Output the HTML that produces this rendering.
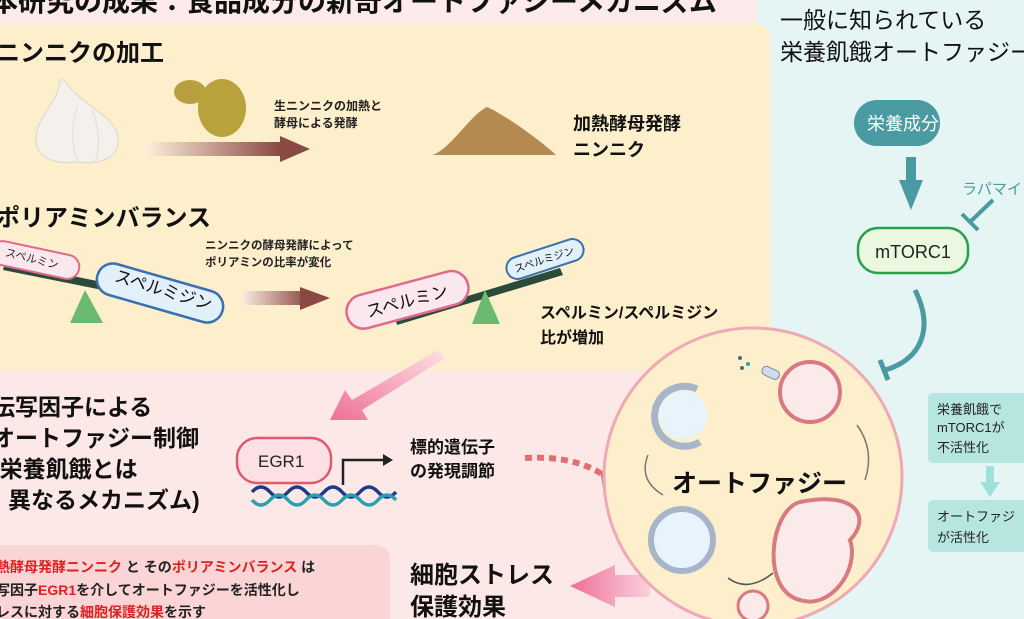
<!DOCTYPE html>
<html><head><meta charset="utf-8"><style>
body{margin:0;width:1024px;height:619px;overflow:hidden;background:#fcecea;font-family:"Liberation Sans","Noto Sans CJK JP",sans-serif}
svg{display:block}
text{font-family:"Liberation Sans","Noto Sans CJK JP",sans-serif}
</style></head><body>
<svg width="1024" height="619" viewBox="0 0 1024 619">
<defs>
<linearGradient id="g1" x1="0" x2="1"><stop offset="0" stop-color="#fdf0dc"/><stop offset="1" stop-color="#8a4a44"/></linearGradient>
<linearGradient id="g2" x1="0" x2="1"><stop offset="0" stop-color="#fbe8e0"/><stop offset="1" stop-color="#8a4a44"/></linearGradient>
<linearGradient id="g3" x1="1" y1="0" x2="0" y2="1"><stop offset="0" stop-color="#fde0e6"/><stop offset="1" stop-color="#ee6f98"/></linearGradient>
<linearGradient id="g4" x1="1" x2="0"><stop offset="0" stop-color="#fbd0dc"/><stop offset="1" stop-color="#ee6f98"/></linearGradient>
</defs>
<rect width="1024" height="619" fill="#fcebea"/>
<rect x="757" y="0" width="267" height="619" fill="#e4f5f3"/>
<rect x="-20" y="24" width="790" height="346" rx="14" fill="#fdefcc"/>
<rect x="-20" y="370" width="777" height="249" fill="#fde8e8"/>
<text x="-10" y="11" font-size="28" font-weight="bold" fill="#111">本研究の成果：食品成分の新奇オートファジーメカニズム</text>
<text x="-4" y="61" font-size="24" font-weight="bold" fill="#111">ニンニクの加工</text>
<!-- garlic -->
<path d="M60 80 C 58 105, 36 115, 36 140 C 36 158, 55 165, 78 162 C 100 165, 120 158, 118 138 C 116 115, 80 105, 64 80Z" fill="#f4f1ec" stroke="#dcd5ca"/>
<path d="M78 105 C 70 125, 72 150, 78 162 M 92 110 C 100 130, 100 150, 95 162" stroke="#e2dcd2" fill="none"/>
<ellipse cx="190" cy="92" rx="16" ry="12" fill="#b8a040"/>
<ellipse cx="222" cy="108" rx="24" ry="29" fill="#b9a23c"/>
<rect x="145" y="142" width="135" height="14" fill="url(#g1)"/>
<polygon points="280,136 310,149 280,162" fill="#8a4a44"/>
<text x="274" y="110" font-size="12" font-weight="bold" fill="#222">生ニンニクの加熱と</text>
<text x="274" y="127" font-size="12" font-weight="bold" fill="#222">酵母による発酵</text>
<path d="M432 155 C 450 150, 470 115, 487 107 C 505 115, 540 140, 556 155 Z" fill="#b48a50"/>
<text x="573" y="130" font-size="18" font-weight="bold" fill="#111">加熱酵母発酵</text>
<text x="573" y="156" font-size="18" font-weight="bold" fill="#111">ニンニク</text>
<text x="-4" y="226" font-size="24" font-weight="bold" fill="#111">ポリアミンバランス</text>
<!-- left seesaw -->
<polygon points="5,262 165,295 162,302 3,270" fill="#2a4a3a"/>
<rect x="-10" y="248" width="90" height="24" rx="12" fill="#fbe8ee" stroke="#e06a8a" stroke-width="2" transform="rotate(12 35 260)"/>
<text x="5" y="262" font-size="11" fill="#222" transform="rotate(14 30 258)">スペルミン</text>
<rect x="95" y="277" width="130" height="32" rx="16" fill="#e2f0fa" stroke="#3a6fb0" stroke-width="2.5" transform="rotate(16 160 293)"/>
<text x="112" y="295" font-size="17" fill="#111" transform="rotate(17 160 293)">スペルミジン</text>
<polygon points="85,290 70,323 103,323" fill="#6aba72"/>
<rect x="243" y="291" width="65" height="14" fill="url(#g2)"/>
<polygon points="300,287 330,298 300,310" fill="#8a4a44"/>
<text x="205" y="249" font-size="11.5" font-weight="bold" fill="#222">ニンニクの酵母発酵によって</text>
<text x="205" y="266" font-size="11.5" font-weight="bold" fill="#222">ポリアミンの比率が変化</text>
<!-- right seesaw -->
<polygon points="395,318 560,268 563,275 397,325" fill="#2a4a3a"/>
<rect x="345" y="283" width="125" height="34" rx="17" fill="#fbe8ee" stroke="#e06a8a" stroke-width="2.5" transform="rotate(-15 407 300)"/>
<text x="365" y="307" font-size="17" fill="#111" transform="rotate(-15 407 300)">スペルミン</text>
<rect x="505" y="248" width="80" height="22" rx="11" fill="#e2f0fa" stroke="#3a6fb0" stroke-width="2" transform="rotate(-18 545 259)"/>
<text x="513" y="263" font-size="10.5" fill="#111" transform="rotate(-18 545 259)">スペルミジン</text>
<polygon points="485,290 472,324 500,324" fill="#6aba72"/>
<text x="540" y="318" font-size="16" font-weight="bold" fill="#111">スペルミン/スペルミジン</text>
<text x="540" y="343" font-size="16" font-weight="bold" fill="#111">比が増加</text>
<!-- pink arrow diag -->
<polygon points="438,350 445,358 362,410 368,420 330,420 345,390 352,400" fill="url(#g3)"/>
<text x="-8" y="415" font-size="23" font-weight="bold" fill="#111">伝写因子による</text>
<text x="-8" y="446" font-size="23" font-weight="bold" fill="#111">オートファジー制御</text>
<text x="-8" y="477" font-size="23" font-weight="bold" fill="#111">(栄養飢餓とは</text>
<text x="8" y="508" font-size="23" font-weight="bold" fill="#111">異なるメカニズム)</text>
<rect x="237" y="438" width="94" height="45" rx="20" fill="#fde0e4" stroke="#e05a6a" stroke-width="2.5"/>
<text x="258" y="467" font-size="17" fill="#222">EGR1</text>
<path d="M343 485 V 460 H 385" stroke="#222" stroke-width="2.5" fill="none"/>
<polygon points="383,454 393,460 383,466" fill="#222"/>
<path d="M252 492 q 9 -10 18 0 t 18 0 t 18 0 t 18 0 t 18 0 t 18 0 t 18 0 t 18 0" stroke="#1a3a8a" stroke-width="3.5" fill="none"/>
<path d="M252 500 q 9 10 18 0 t 18 0 t 18 0 t 18 0 t 18 0 t 18 0 t 18 0 t 18 0" stroke="#2aa0b0" stroke-width="3.5" fill="none"/>
<text x="410" y="453" font-size="17" font-weight="bold" fill="#111">標的遺伝子</text>
<text x="410" y="477" font-size="17" font-weight="bold" fill="#111">の発現調節</text>
<path d="M525 458 Q 580 455 610 480" stroke="#e07070" stroke-width="6" stroke-dasharray="7 5" fill="none"/>
<polygon points="600,470 628,490 604,494" fill="#e07070"/>
<rect x="-20" y="545" width="410" height="90" rx="14" fill="#fbd5d5"/>
<text x="-4" y="572" font-size="14" font-weight="bold" fill="#222"><tspan fill="#e02020">熱酵母発酵ニンニク</tspan> と その<tspan fill="#e02020">ポリアミンバランス</tspan> は</text>
<text x="-4" y="595" font-size="14" font-weight="bold" fill="#222">写因子<tspan fill="#e02020">EGR1</tspan>を介してオートファジーを活性化し</text>
<text x="-4" y="617" font-size="14" font-weight="bold" fill="#222">レスに対する<tspan fill="#e02020">細胞保護効果</tspan>を示す</text>
<text x="410" y="583" font-size="24" font-weight="bold" fill="#111">細胞ストレス</text>
<text x="410" y="615" font-size="24" font-weight="bold" fill="#111">保護効果</text>
<polygon points="650,575 650,597 615,597 615,607 570,586 615,565 615,575" fill="url(#g4)"/>
<!-- circle -->
<circle cx="753" cy="477" r="149" fill="#fdefcc" stroke="#f0a8b5" stroke-width="3"/>
<circle cx="683" cy="415" r="24" fill="#e8f4fb"/>
<path d="M697 389 A 30 30 0 1 0 700 442" stroke="#a8b4c8" stroke-width="7" fill="none"/>
<circle cx="682" cy="540" r="31" fill="#e8f4fb" stroke="#a8b4c8" stroke-width="6"/>
<circle cx="810" cy="392" r="30" fill="#fbeaea" stroke="#d97a80" stroke-width="4"/>
<path d="M800 502 C 860 490, 870 520, 850 540 C 860 570, 830 610, 800 600 C 760 590, 770 510, 800 502Z" fill="#fbeaea" stroke="#d97a80" stroke-width="4"/>
<circle cx="753" cy="606" r="15" fill="#fbeaea" stroke="#d97a80" stroke-width="3"/>
<rect x="762" y="368" width="18" height="9" rx="4" fill="#d0dcec" stroke="#7a8aa0" transform="rotate(25 770 372)"/>
<circle cx="740" cy="358" r="2" fill="#567"/><circle cx="748" cy="364" r="2" fill="#2a9"/><circle cx="742" cy="368" r="2" fill="#567"/>
<path d="M648 455 q -10 25 15 40" stroke="#777" stroke-width="1.5" fill="none"/>
<path d="M728 578 q 20 15 45 -5" stroke="#555" stroke-width="1.5" fill="none"/>
<path d="M865 480 q 10 -30 -8 -55" stroke="#777" stroke-width="1.5" fill="none"/>
<text x="672" y="492" font-size="25" font-weight="bold" fill="#111">オートファジー</text>
<!-- right panel -->
<text x="780" y="28" font-size="23" fill="#111">一般に知られている</text>
<text x="780" y="60" font-size="23" fill="#111">栄養飢餓オートファジー</text>
<rect x="854" y="100" width="86" height="46" rx="23" fill="#4a9aa2"/>
<text x="867" y="130" font-size="18" fill="#fff">栄養成分</text>
<rect x="906" y="157" width="10" height="25" fill="#4a9aa2"/>
<polygon points="899,180 923,180 911,210" fill="#4a9aa2"/>
<text x="962" y="194" font-size="15" fill="#4a9aa2">ラパマイ</text>
<path d="M993 200 L 970 222 M 962 214 L 978 230" stroke="#4a9aa2" stroke-width="4"/>
<rect x="858" y="228" width="110" height="45" rx="20" fill="#eaf8e0" stroke="#28a050" stroke-width="2.5"/>
<text x="913" y="258" font-size="18" fill="#222" text-anchor="middle">mTORC1</text>
<path d="M915 290 C 935 330, 920 360, 885 370" stroke="#4a9aa2" stroke-width="5" fill="none"/>
<path d="M880 360 L 888 380" stroke="#4a9aa2" stroke-width="5"/>
<rect x="928" y="393" width="110" height="70" rx="5" fill="#b7e6e0"/>
<text x="937" y="414" font-size="13" fill="#222">栄養飢餓で</text>
<text x="937" y="432" font-size="13" fill="#222">mTORC1が</text>
<text x="937" y="452" font-size="13" fill="#222">不活性化</text>
<rect x="986" y="466" width="8" height="18" fill="#9fe0da"/>
<polygon points="980,482 1000,482 990,497" fill="#9fe0da"/>
<rect x="928" y="500" width="110" height="52" rx="5" fill="#b7e6e0"/>
<text x="937" y="521" font-size="13" fill="#222">オートファジ</text>
<text x="937" y="542" font-size="13" fill="#222">が活性化</text>
</svg>
</body></html>
